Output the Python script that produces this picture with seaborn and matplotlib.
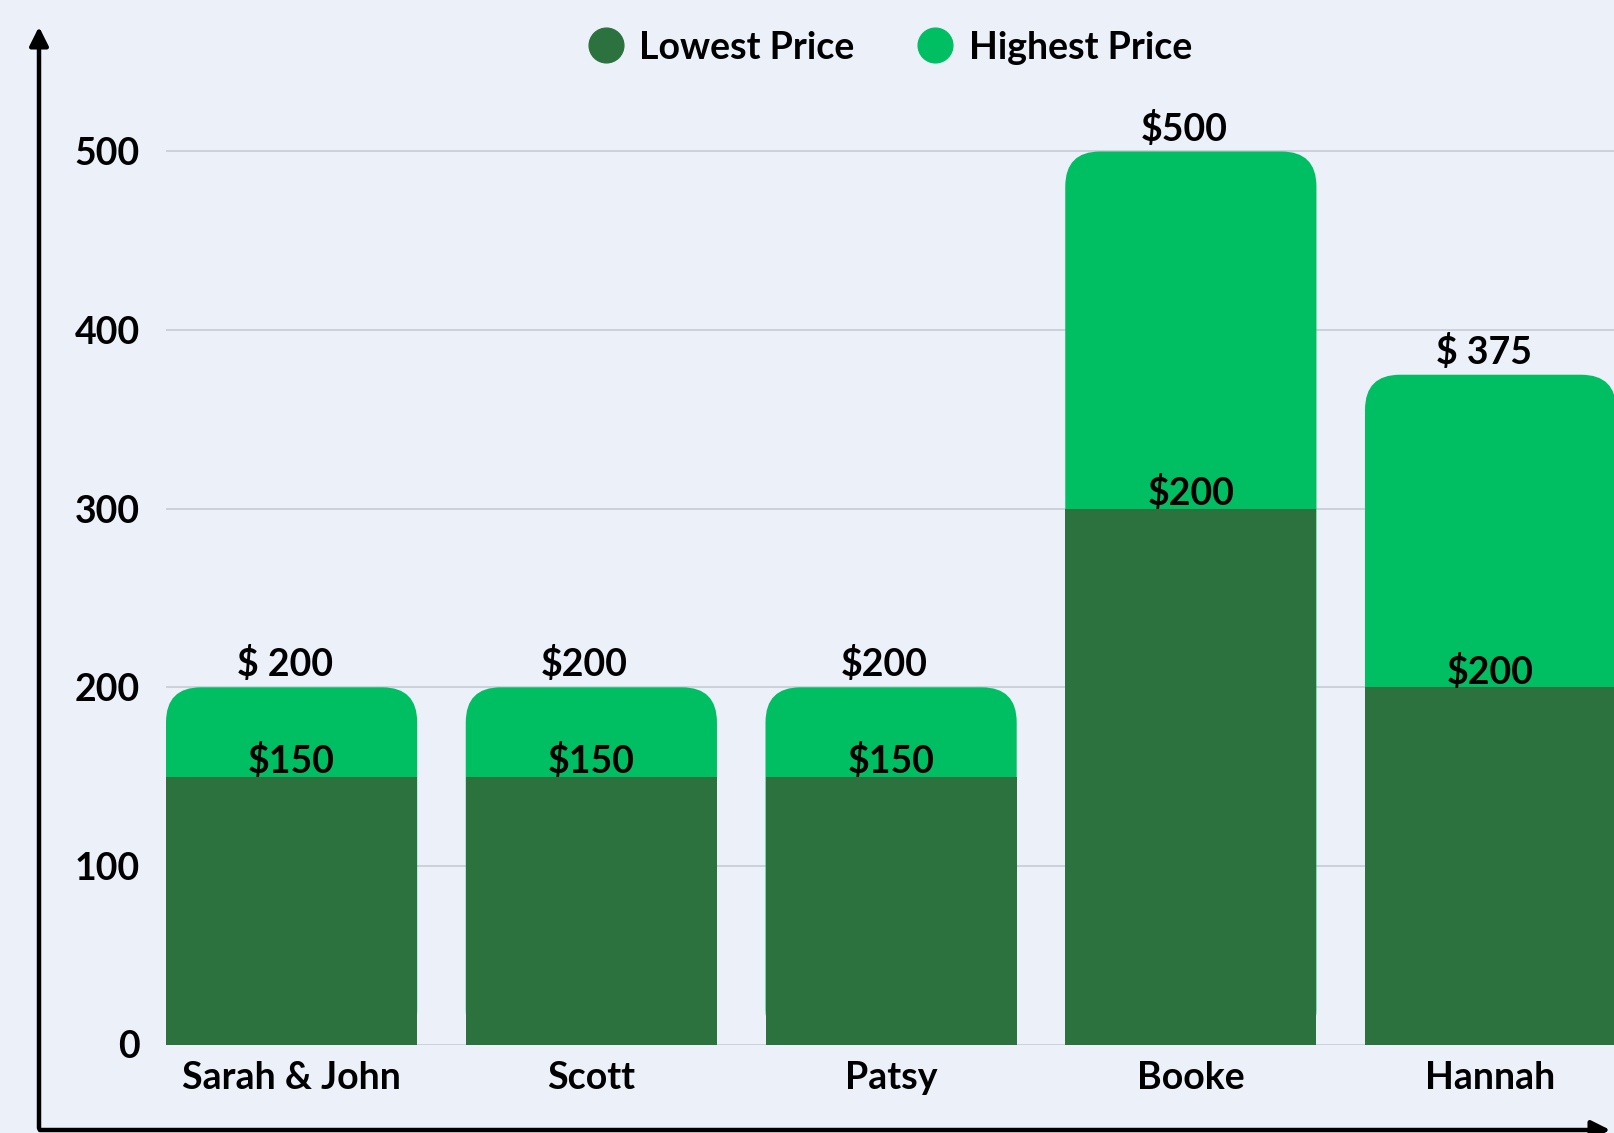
import numpy as np
import pandas as pd
import matplotlib
matplotlib.use("Agg")
import matplotlib.pyplot as plt
from matplotlib.patches import FancyBboxPatch, FancyArrowPatch
from matplotlib.lines import Line2D
import seaborn as sns

# ---- data ----
names = ["Sarah & John", "Scott", "Patsy", "Booke", "Hannah"]
lowest = [150, 150, 150, 300, 200]
highest = [200, 200, 200, 500, 375]
low_labels = ["$150", "$150", "$150", "$200", "$200"]
high_labels = ["$ 200", "$200", "$200", "$500", "$ 375"]
yticks = [0, 100, 200, 300, 400, 500]

BG = "#ECF0F9"
DARK = "#2C723E"
LIGHT = "#00BF63"
GRID = "#C9CED9"
FS = 27

sns.set_theme(style="white")
plt.rcParams["font.family"] = ["Lato", "DejaVu Sans"]
plt.rcParams["font.weight"] = "bold"
plt.rcParams["text.color"] = "black"

df = pd.DataFrame({"name": names, "low": lowest, "high": highest})

fig = plt.figure(figsize=(16.15, 11.33), dpi=100, facecolor=BG)
ax = fig.add_axes([166 / 1615, 1 - 1044.5 / 1133, 1 - 166 / 1615, 1044.5 / 1133])
ax.set_facecolor(BG)

W = 0.838
XR = 4.415
sns.barplot(data=df, x="name", y="high", color=LIGHT, width=W, saturation=1,
            linewidth=0, ax=ax, zorder=2)
n_high = len(ax.patches)
xpx = (1615 - 166) / (XR + W / 2)
ypx = 1044.5 / 584.8
r_x = 35 / xpx
r_y = 35 / ypx
for p in list(ax.patches)[:n_high]:
    x0, y0, w, h = p.get_x(), p.get_y(), p.get_width(), p.get_height()
    p.remove()
    fb = FancyBboxPatch((x0, y0), w, h,
                        boxstyle=f"round,pad=0,rounding_size={r_x}",
                        mutation_aspect=r_y / r_x,
                        facecolor=LIGHT, edgecolor="none", lw=0, zorder=2)
    ax.add_patch(fb)

sns.barplot(data=df, x="name", y="low", color=DARK, width=W, saturation=1,
            linewidth=0, ax=ax, zorder=3)

ax.set_xlim(-W / 2, XR)
ax.set_ylim(0, 584.8)
ax.set_yticks(yticks)
ax.set_yticklabels([str(t) for t in yticks])
ax.yaxis.grid(True, color=GRID, lw=1.3, zorder=0)
ax.set_axisbelow(True)
for s in ax.spines.values():
    s.set_visible(False)
ax.set_xlabel("")
ax.set_ylabel("")
ax.tick_params(axis="y", length=0, pad=19, labelsize=FS, labelcolor="black")
ax.tick_params(axis="x", length=0, pad=12, labelsize=FS, labelcolor="black")
for t in ax.get_xticklabels() + ax.get_yticklabels():
    t.set_fontweight("bold")

for i in range(len(names)):
    ax.annotate(high_labels[i], (i, highest[i]), xytext=(-5, 16.5), textcoords="offset points",
                ha="center", va="center", fontsize=FS, fontweight="bold", color="black", zorder=5)
    ax.annotate(low_labels[i], (i, lowest[i]), xytext=(0, 11), textcoords="offset points",
                ha="center", va="center", fontsize=FS, fontweight="bold", color="black", zorder=5)

# legend
handles = [Line2D([], [], marker="o", ls="none", markersize=25, color=DARK),
           Line2D([], [], marker="o", ls="none", markersize=25, color=LIGHT)]
fig.legend(handles, ["Lowest Price", "Highest Price"], loc="center",
           bbox_to_anchor=(0.545, 0.958), ncol=2, frameon=False, labelcolor="black",
           prop={"size": FS, "weight": "bold"}, handletextpad=-0.1, columnspacing=1.15)

# arrow axes
fig.add_artist(FancyArrowPatch((39 / 1615, 1 - 1131 / 1133), (39 / 1615, 1 - 24 / 1133),
               transform=fig.transFigure, arrowstyle="-|>", mutation_scale=28, lw=3.2, color="black"))
fig.add_artist(FancyArrowPatch((37 / 1615, 1 - 1130 / 1133), (1613 / 1615, 1 - 1130 / 1133),
               transform=fig.transFigure, arrowstyle="-|>", mutation_scale=28, lw=3.2, color="black"))

fig.savefig("out.png", dpi=100, facecolor=BG)
